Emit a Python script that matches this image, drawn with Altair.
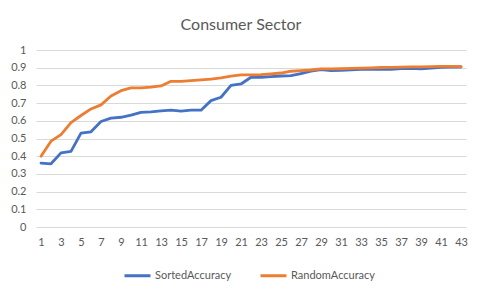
import altair as alt
import pandas as pd

x_vals = list(range(1, 44))
sorted_acc = [0.361, 0.357, 0.419, 0.427, 0.530, 0.538, 0.596, 0.615, 0.620, 0.632,
              0.648, 0.650, 0.656, 0.660, 0.655, 0.660, 0.660, 0.714, 0.733, 0.800,
              0.808, 0.846, 0.846, 0.850, 0.853, 0.855, 0.867, 0.880, 0.889, 0.883,
              0.885, 0.888, 0.890, 0.890, 0.890, 0.891, 0.895, 0.897, 0.893, 0.898,
              0.902, 0.904, 0.904]
random_acc = [0.400, 0.485, 0.522, 0.590, 0.630, 0.667, 0.690, 0.740, 0.770, 0.786,
              0.786, 0.790, 0.797, 0.823, 0.823, 0.827, 0.831, 0.836, 0.842, 0.853,
              0.859, 0.859, 0.861, 0.865, 0.870, 0.880, 0.883, 0.887, 0.893, 0.893,
              0.894, 0.896, 0.898, 0.899, 0.901, 0.902, 0.903, 0.905, 0.905, 0.906,
              0.907, 0.907, 0.906]
series = ["SortedAccuracy", "RandomAccuracy"]
colors = ["#4472C4", "#ED7D31"]
x_ticks = list(range(1, 44, 2))
y_ticks = [round(i * 0.1, 1) for i in range(11)]

rows = []
for name, vals in zip(series, [sorted_acc, random_acc]):
    for x, v in zip(x_vals, vals):
        rows.append({"x": x, "value": v, "series": name})
df = pd.DataFrame(rows)

FONT = "Lato"
GREY = "#595959"

chart = alt.Chart(df).mark_line(strokeWidth=2.8, strokeJoin="round", strokeCap="round").encode(
    x=alt.X("x:Q", scale=alt.Scale(domain=[0.5, 43.5], nice=False, zero=False),
            axis=alt.Axis(values=x_ticks, title=None, grid=False, ticks=False, domain=False,
                          labelPadding=9, labelFontSize=11, labelColor=GREY, labelFont=FONT)),
    y=alt.Y("value:Q", scale=alt.Scale(domain=[0, 1], nice=False),
            axis=alt.Axis(values=y_ticks, title=None, ticks=False, domain=False,
                          gridColor="#D9D9D9", gridWidth=1, labelPadding=10,
                          labelFontSize=11, labelColor=GREY, labelFont=FONT, format=".1~f")),
    color=alt.Color("series:N", scale=alt.Scale(domain=series, range=colors), sort=series,
                    legend=alt.Legend(title=None, orient="none", legendX=87, legendY=211,
                                      direction="horizontal", symbolType="stroke",
                                      symbolSize=676, symbolStrokeWidth=3,
                                      labelFontSize=11, labelColor=GREY, labelFont=FONT,
                                      columnPadding=22, labelOffset=3)),
    order="x:Q",
).properties(
    width=430, height=177,
    title=alt.TitleParams("Consumer Sector", font=FONT, fontSize=16, fontWeight="normal",
                          color=GREY, anchor="middle", dx=-10, offset=11),
    autosize=alt.AutoSizeParams(type="none"),
    padding={"left": 28, "top": 42, "right": 7, "bottom": 54},
).configure_view(stroke=None)

chart.save("out.html", embed_options={"renderer": "svg", "actions": False})
